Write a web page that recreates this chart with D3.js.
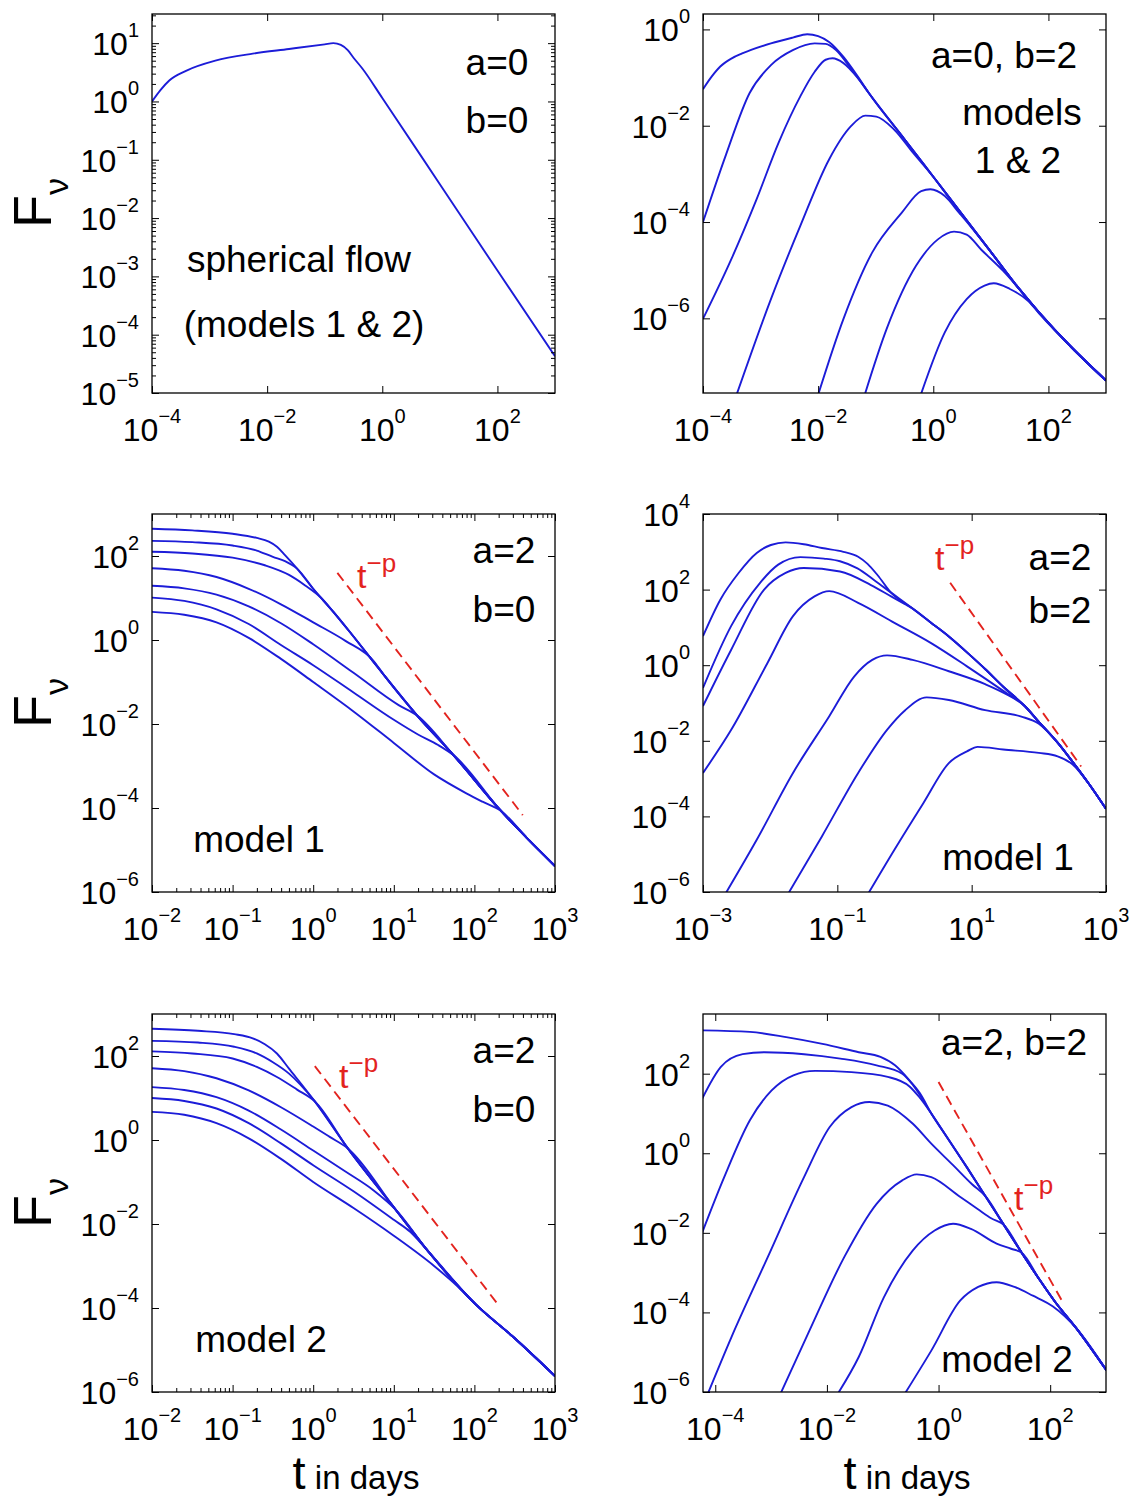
<!DOCTYPE html>
<html>
<head>
<meta charset="utf-8">
<script src="https://cdn.jsdelivr.net/npm/d3@7"></script>
<style>
  body { margin: 0; background: #fff; }
  text { font-family: "Liberation Sans", Arial, Helvetica, sans-serif; }
</style>
</head>
<body>
<svg id="fig" width="1134" height="1499"></svg>
<script>
// all values are [log10 t (days), log10 F_nu]

// a=0, b=0 spherical flow
var sphere = [[-4,0.0],[-3.85,0.2],[-3.7,0.36],[-3.4,0.53],[-2.9,0.70],[-2.25,0.82],[-1.62,0.90],[-1.0,0.98],
  [-0.85,1.0],[-0.72,0.97],[-0.6,0.88],[-0.5,0.75],[-0.35,0.57],[0,0.06],[1,-1.42],[2,-2.9],[3,-4.37]];

// a=0, b=2
var a0b2Env = [[-1.3,-1.02],[-1.12,-1.32],[-0.5,-2.28],[0,-3.06],[0.5,-3.84],[1,-4.62],[1.5,-5.40],[1.84,-5.88],[2.4,-6.6],[3,-7.29]];
var a0b2 = [
  [[-4,-1.24],[-3.85,-0.98],[-3.7,-0.77],[-3.5,-0.6],[-3.32,-0.50],[-2.82,-0.29],[-2.44,-0.17],[-2.19,-0.10],[-2.0,-0.14],[-1.81,-0.26],[-1.56,-0.57],[-1.31,-0.98]],
  [[-4,-4.0],[-3.6,-2.6],[-3.19,-1.32],[-2.82,-0.74],[-2.44,-0.43],[-2.06,-0.29],[-1.87,-0.30],[-1.69,-0.43],[-1.5,-0.7]],
  [[-4,-6.01],[-3.5,-4.75],[-3.07,-3.53],[-2.69,-2.36],[-2.31,-1.39],[-2.06,-0.88],[-1.87,-0.63],[-1.75,-0.60],[-1.56,-0.70],[-1.31,-1.01]],
  [[-3.45,-7.7],[-2.82,-5.6],[-2.31,-4.08],[-1.81,-2.70],[-1.43,-2.01],[-1.18,-1.79],[-0.99,-1.81],[-0.68,-2.08],[-0.36,-2.55]],
  [[-2.03,-7.7],[-1.56,-6.01],[-1.06,-4.63],[-0.55,-3.81],[-0.21,-3.36],[-0.05,-3.32],[0.20,-3.46],[0.45,-3.81],[0.64,-4.08]],
  [[-1.22,-7.7],[-0.81,-6.22],[-0.30,-4.91],[0.08,-4.36],[0.36,-4.20],[0.58,-4.26],[0.83,-4.57],[1.21,-5.01]],
  [[-0.25,-7.7],[0.20,-6.29],[0.58,-5.6],[0.89,-5.32],[1.05,-5.27],[1.33,-5.39],[1.65,-5.64],[1.84,-5.9]]
];

// a=2, b=0, model 1
var m1b0Env = [[-0.35,2.02],[-0.2,1.70],[0,1.22],[0.25,0.67],[0.43,0.25],[0.65,-0.28],[0.88,-0.84],[1.29,-1.80],[1.74,-2.74],[2.33,-4.07],[2.65,-4.71],[3,-5.38]];
var m1b0 = [
  [[-2,2.65],[-1.5,2.61],[-1,2.53],[-0.7,2.43],[-0.55,2.34],[-0.45,2.22]],
  [[-2,2.36],[-1.5,2.33],[-1,2.25],[-0.7,2.13],[-0.5,1.98],[-0.35,1.88]],
  [[-2,2.10],[-1.5,2.06],[-1,1.96],[-0.6,1.78],[-0.3,1.55],[-0.1,1.30],[0.1,1.0]],
  [[-2,1.71],[-1.6,1.65],[-1.2,1.50],[-0.8,1.22],[-0.4,0.85],[0,0.42],[0.4,-0.02],[0.75,-0.5]],
  [[-2,1.29],[-1.6,1.23],[-1.2,1.08],[-0.8,0.80],[-0.4,0.40],[0,-0.1],[0.5,-0.78],[1.06,-1.55]],
  [[-2,1.01],[-1.6,0.93],[-1.2,0.73],[-0.8,0.38],[-0.4,-0.12],[0,-0.6],[0.5,-1.25],[1.0,-1.9],[1.3,-2.25],[1.55,-2.5]],
  [[-2,0.67],[-1.6,0.60],[-1.2,0.42],[-0.8,0.05],[-0.4,-0.45],[0,-1.0],[0.5,-1.7],[1.0,-2.45],[1.5,-3.2],[1.9,-3.65],[2.1,-3.85]]
];
var m1b0Dash = [[0.3,1.6],[2.6,-4.17]];

// a=2, b=2, model 1
var m1b2Env = [[-0.2,1.92],[0.12,1.50],[0.39,1.13],[0.66,0.76],[0.98,0.26],[1.2,-0.1],[1.47,-0.57],[1.79,-1.08],[2.0,-1.5],[2.28,-2.05],[2.5,-2.55],[2.75,-3.15],[3,-3.8]];
var m1b2 = [
  [[-3,0.77],[-2.74,1.74],[-2.47,2.44],[-2.2,2.97],[-1.99,3.18],[-1.77,3.25],[-1.5,3.2],[-1.23,3.1],[-0.91,3.0],[-0.69,2.87],[-0.55,2.68],[-0.4,2.38]],
  [[-3,-0.6],[-2.58,1.04],[-2.15,2.18],[-1.88,2.66],[-1.55,2.86],[-1.2,2.82],[-0.96,2.75],[-0.7,2.56],[-0.45,2.25]],
  [[-3,-1.08],[-2.58,0.41],[-2.09,2.0],[-1.77,2.44],[-1.5,2.57],[-0.96,2.48],[-0.5,2.12],[-0.2,1.82],[0.0,1.62]],
  [[-3,-2.85],[-2.58,-1.71],[-2.04,0.06],[-1.66,1.30],[-1.34,1.82],[-1.12,1.96],[-0.69,1.65],[-0.15,1.12],[0.39,0.59],[0.93,-0.03],[1.47,-0.68]],
  [[-2.7,-6.15],[-2.2,-4.62],[-1.66,-2.85],[-1.12,-1.35],[-0.75,-0.30],[-0.48,0.14],[-0.26,0.26],[0.12,0.14],[0.66,-0.16],[1.2,-0.5],[1.55,-0.8]],
  [[-1.75,-6.1],[-1.23,-4.53],[-0.69,-2.85],[-0.26,-1.71],[0.01,-1.19],[0.33,-0.85],[0.66,-0.92],[1.2,-1.19],[1.74,-1.36],[2.0,-1.55]],
  [[-0.56,-6.1],[-0.15,-4.88],[0.28,-3.65],[0.66,-2.59],[0.93,-2.28],[1.09,-2.16],[1.47,-2.23],[2.0,-2.32],[2.28,-2.41],[2.5,-2.62]]
];
var m1b2Dash = [[0.68,2.18],[2.63,-2.68]];

// a=2, b=0, model 2
var m2b0Env = [[-0.45,2.06],[-0.3,1.70],[0.02,0.92],[0.43,-0.20],[1.02,-1.65],[1.43,-2.66],[2.02,-3.92],[2.5,-4.72],[3,-5.62]];
var m2b0 = [
  [[-2,2.65],[-1.43,2.6],[-0.98,2.52],[-0.75,2.42],[-0.6,2.28]],
  [[-2,2.36],[-1.43,2.32],[-0.98,2.22],[-0.7,2.06],[-0.5,1.85],[-0.3,1.58]],
  [[-2,2.11],[-1.5,2.06],[-1.0,1.94],[-0.7,1.74],[-0.45,1.5],[-0.2,1.2]],
  [[-2,1.71],[-1.6,1.64],[-1.2,1.47],[-0.8,1.18],[-0.4,0.78],[0,0.32],[0.2,0.08]],
  [[-2,1.26],[-1.6,1.19],[-1.2,1.02],[-0.8,0.70],[-0.4,0.25],[0,-0.25],[0.4,-0.75],[0.75,-1.2]],
  [[-2,1.0],[-1.6,0.93],[-1.2,0.75],[-0.8,0.40],[-0.4,-0.08],[0,-0.6],[0.5,-1.22],[1.0,-1.9],[1.2,-2.18]],
  [[-2,0.67],[-1.6,0.60],[-1.2,0.40],[-0.8,0.04],[-0.4,-0.45],[0,-1.0],[0.5,-1.62],[1.0,-2.28],[1.5,-3.0],[1.8,-3.5]]
];
var m2b0Dash = [[0.02,1.76],[2.29,-3.91]];

// a=2, b=2, model 2
var m2b2Env = [[-0.13,1.0],[0.19,0.32],[0.52,-0.38],[0.84,-1.08],[1.17,-1.80],[1.49,-2.50],[1.82,-3.20],[2.08,-3.72],[2.47,-4.40],[3.03,-5.50]];
var m2b2 = [
  [[-4.25,3.09],[-3.38,3.05],[-2.73,2.92],[-2.08,2.75],[-1.43,2.54],[-1.04,2.42],[-0.78,2.21],[-0.52,1.83],[-0.33,1.50]],
  [[-4.25,1.33],[-3.9,2.17],[-3.51,2.49],[-3.12,2.54],[-2.41,2.49],[-1.76,2.38],[-1.11,2.21],[-0.65,2.0],[-0.45,1.7]],
  [[-4.25,-2.05],[-3.84,-0.60],[-3.38,0.83],[-2.99,1.58],[-2.6,1.96],[-2.21,2.07],[-1.56,2.04],[-0.91,1.92],[-0.52,1.68],[-0.35,1.42]],
  [[-4.15,-6.1],[-3.71,-4.62],[-3.06,-2.61],[-2.41,-0.6],[-1.95,0.66],[-1.56,1.16],[-1.24,1.29],[-0.91,1.20],[-0.46,0.74],[-0.13,0.24],[0.26,-0.3],[0.6,-0.78]],
  [[-2.85,-6.1],[-2.34,-4.54],[-1.69,-2.61],[-1.11,-1.27],[-0.65,-0.68],[-0.39,-0.53],[-0.13,-0.60],[0.39,-1.10],[0.7,-1.40],[0.95,-1.64]],
  [[-1.83,-6.1],[-1.43,-5.12],[-0.98,-3.62],[-0.46,-2.44],[-0.07,-1.94],[0.26,-1.77],[0.58,-1.90],[1.04,-2.27],[1.3,-2.40]],
  [[-0.63,-6.1],[-0.13,-4.96],[0.39,-3.70],[0.71,-3.36],[1.04,-3.24],[1.36,-3.36],[1.69,-3.58],[2.05,-3.85]]
];
var m2b2Dash = [[0.0,1.79],[2.24,-3.78]];

// tick exponents
var xTicks1 = [-4, -2, 0, 2];
var yTicks1 = [-5, -4, -3, -2, -1, 0, 1];
var yTicks2 = [-6, -4, -2, 0];
var xTicks3 = [-2, -1, 0, 1, 2, 3];
var yTicks3 = [-6, -4, -2, 0, 2];
var xTicks4 = [-3, -1, 1, 3];
var yTicks4 = [-6, -4, -2, 0, 2, 4];
var xTicks6 = [-4, -2, 0, 2];
var yTicks6 = [-6, -4, -2, 0, 2];

var blue = "#1c1cd8";
var red = "#e3231e";

var svg = d3.select("#fig");
svg.append("rect").attr("width", 1134).attr("height", 1499).attr("fill", "#fff");

// a curve follows its own points, then the common late-time track
function joinEnv(pts, env) {
  var last = pts[pts.length - 1][0];
  return pts.concat(env.filter(function(p) { return p[0] > last + 0.05; }));
}

function expText(sel, e) {
  sel.append("tspan").text("10");
  sel.append("tspan").attr("dy", -18).attr("font-size", 20).text(e < 0 ? "\u2212" + (-e) : String(e));
}

function minorValues(d) {
  var out = [];
  for (var k = Math.floor(d[0]); k < Math.ceil(d[1]); k++) {
    for (var m = 2; m < 10; m++) {
      var v = Math.log10(m) + k;
      if (v > d[0] && v < d[1]) out.push(Math.pow(10, v));
    }
  }
  return out;
}

var panelCount = 0;
function drawPanel(p) {
  panelCount++;
  var x = d3.scaleLog().domain([Math.pow(10, p.xd[0]), Math.pow(10, p.xd[1])]).range([p.x0, p.x1]);
  var y = d3.scaleLog().domain([Math.pow(10, p.yd[0]), Math.pow(10, p.yd[1])]).range([p.y1, p.y0]);
  var g = svg.append("g");

  g.append("clipPath").attr("id", "clip" + panelCount)
    .append("rect").attr("x", p.x0).attr("y", p.y0).attr("width", p.x1 - p.x0).attr("height", p.y1 - p.y0);

  var line = d3.line()
    .x(function(d) { return x(Math.pow(10, d[0])); })
    .y(function(d) { return y(Math.pow(10, d[1])); })
    .curve(d3.curveMonotoneX);

  var plot = g.append("g").attr("clip-path", "url(#clip" + panelCount + ")");
  plot.selectAll("path.crv")
    .data(p.curves)
    .join("path")
    .attr("class", "crv")
    .attr("d", line)
    .attr("fill", "none")
    .attr("stroke", blue)
    .attr("stroke-width", 1.9)
    .attr("stroke-linejoin", "round");

  if (p.dash) {
    plot.append("path")
      .datum(p.dash)
      .attr("d", d3.line().x(function(d) { return x(Math.pow(10, d[0])); }).y(function(d) { return y(Math.pow(10, d[1])); }))
      .attr("fill", "none")
      .attr("stroke", red)
      .attr("stroke-width", 1.9)
      .attr("stroke-dasharray", "10,6");
  }

  var xMaj = p.xt.map(function(e) { return Math.pow(10, e); });
  var yMaj = p.yt.map(function(e) { return Math.pow(10, e); });

  function ticks(vals, size) {
    g.append("g").attr("transform", "translate(0," + p.y1 + ")")
      .call(d3.axisBottom(x).tickValues(vals).tickSizeInner(-size).tickSizeOuter(0).tickFormat(""));
    g.append("g").attr("transform", "translate(0," + p.y0 + ")")
      .call(d3.axisTop(x).tickValues(vals).tickSizeInner(-size).tickSizeOuter(0).tickFormat(""));
  }
  function yticks(vals, size) {
    g.append("g").attr("transform", "translate(" + p.x0 + ",0)")
      .call(d3.axisLeft(y).tickValues(vals).tickSizeInner(-size).tickSizeOuter(0).tickFormat(""));
    g.append("g").attr("transform", "translate(" + p.x1 + ",0)")
      .call(d3.axisRight(y).tickValues(vals).tickSizeInner(-size).tickSizeOuter(0).tickFormat(""));
  }
  ticks(xMaj, 7);
  yticks(yMaj, 7);
  if (p.minorX) ticks(minorValues(p.xd), 4);
  if (p.minorY) yticks(minorValues(p.yd), 4);
  g.selectAll(".domain").remove();
  g.selectAll(".tick line").attr("stroke", "#000").attr("stroke-width", 1);

  g.append("rect")
    .attr("x", p.x0).attr("y", p.y0)
    .attr("width", p.x1 - p.x0).attr("height", p.y1 - p.y0)
    .attr("fill", "none").attr("stroke", "#000").attr("stroke-width", 1.3);

  p.xt.forEach(function(e) {
    var t = g.append("text")
      .attr("x", x(Math.pow(10, e))).attr("y", p.y1 + 48)
      .attr("text-anchor", "middle").attr("font-size", 32);
    expText(t, e);
  });
  p.yt.forEach(function(e) {
    var t = g.append("text")
      .attr("x", p.x0 - 13).attr("y", y(Math.pow(10, e)) + 12)
      .attr("text-anchor", "end").attr("font-size", 32);
    expText(t, e);
  });

  p.notes.forEach(function(n) {
    g.append("text")
      .attr("x", n[1]).attr("y", n[2])
      .attr("text-anchor", "middle").attr("font-size", 37)
      .text(n[0]);
  });

  if (p.tp) {
    var t = g.append("text").attr("x", p.tp[0]).attr("y", p.tp[1]).attr("fill", red).attr("font-size", 34);
    t.append("tspan").text("t");
    t.append("tspan").attr("dy", -16).attr("font-size", 26).text("\u2212p");
  }
}

var L = [152, 555], R = [703, 1106];
var row1 = [14, 393], row2 = [514, 892], row3 = [1014, 1392];

drawPanel({ x0: L[0], x1: L[1], y0: row1[0], y1: row1[1], xd: [-4, 3], yd: [-5, 1.5],
  xt: xTicks1, yt: yTicks1, minorY: true, curves: [sphere],
  notes: [["a=0", 497, 75], ["b=0", 497, 133], ["spherical flow", 299, 272], ["(models 1 & 2)", 304, 337]] });

drawPanel({ x0: R[0], x1: R[1], y0: row1[0], y1: row1[1], xd: [-4, 3], yd: [-7.55, 0.32],
  xt: xTicks1, yt: yTicks2, curves: a0b2.map(function(c) { return joinEnv(c, a0b2Env); }),
  notes: [["a=0, b=2", 1004, 68], ["models", 1022, 125], ["1 & 2", 1018, 173]] });

drawPanel({ x0: L[0], x1: L[1], y0: row2[0], y1: row2[1], xd: [-2, 3], yd: [-6, 3],
  xt: xTicks3, yt: yTicks3, minorX: true, curves: m1b0.map(function(c) { return joinEnv(c, m1b0Env); }),
  dash: m1b0Dash, tp: [357, 588],
  notes: [["a=2", 504, 563], ["b=0", 504, 622], ["model 1", 259, 852]] });

drawPanel({ x0: R[0], x1: R[1], y0: row2[0], y1: row2[1], xd: [-3, 3], yd: [-6, 4],
  xt: xTicks4, yt: yTicks4, curves: m1b2.map(function(c) { return joinEnv(c, m1b2Env); }),
  dash: m1b2Dash, tp: [935, 570],
  notes: [["a=2", 1060, 570], ["b=2", 1060, 623], ["model 1", 1008, 870]] });

drawPanel({ x0: L[0], x1: L[1], y0: row3[0], y1: row3[1], xd: [-2, 3], yd: [-6, 3],
  xt: xTicks3, yt: yTicks3, minorX: true, curves: m2b0.map(function(c) { return joinEnv(c, m2b0Env); }),
  dash: m2b0Dash, tp: [339, 1088],
  notes: [["a=2", 504, 1063], ["b=0", 504, 1122], ["model 2", 261, 1352]] });

drawPanel({ x0: R[0], x1: R[1], y0: row3[0], y1: row3[1], xd: [-4.22, 3], yd: [-6, 3.5],
  xt: xTicks6, yt: yTicks6, curves: m2b2.map(function(c) { return joinEnv(c, m2b2Env); }),
  dash: m2b2Dash, tp: [1014, 1210],
  notes: [["a=2, b=2", 1014, 1055], ["model 2", 1007, 1372]] });

// F_nu labels on the left of each row
[203, 703, 1203].forEach(function(cy) {
  var t = svg.append("text")
    .attr("transform", "translate(51," + cy + ") rotate(-90)")
    .attr("text-anchor", "middle");
  t.append("tspan").attr("font-size", 54).text("F");
  t.append("tspan").attr("font-size", 34).attr("dy", 17).text("\u03bd");
});

// time axis titles under the bottom row
[356, 907].forEach(function(cx) {
  var t = svg.append("text").attr("x", cx).attr("y", 1489).attr("text-anchor", "middle");
  t.append("tspan").attr("font-size", 47).text("t");
  t.append("tspan").attr("font-size", 33).text(" in days");
});
</script>
</body>
</html>
